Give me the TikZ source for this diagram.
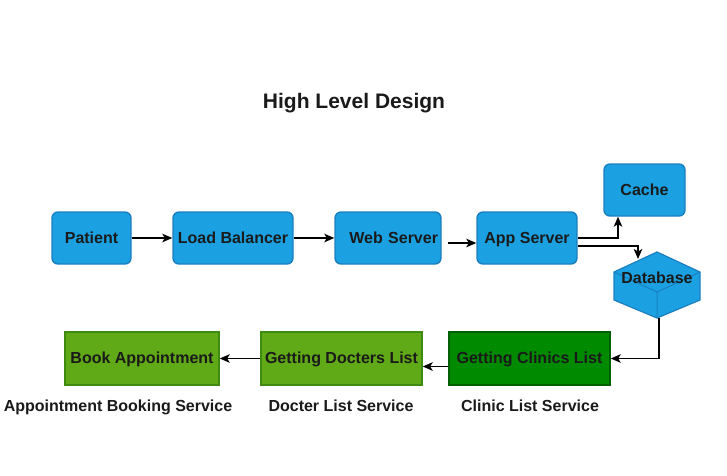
\documentclass[tikz,border=0pt]{standalone}
\usepackage{fontspec}
\setmainfont{Liberation Sans}
\usepackage{tikz}
\usetikzlibrary{arrows.meta,positioning,calc}
\definecolor{srvblue}{HTML}{1BA1E2}
\definecolor{srvedge}{HTML}{1A7FC0}
\definecolor{svcgreen}{HTML}{60A917}
\definecolor{svcedge}{HTML}{3F8A10}
\definecolor{clinicgreen}{HTML}{008A00}
\definecolor{clinicedge}{HTML}{005F00}
\definecolor{inktext}{HTML}{1A1A1A}

\begin{document}
\begin{tikzpicture}[
  x=1pt, y=-1pt,
  font=\fontsize{16}{19}\selectfont\bfseries,
  text=inktext,
  % server boxes
  server/.style={draw=srvedge, fill=srvblue, line width=1.4pt,
                 rounded corners=6pt, minimum height=52pt, inner sep=2pt,
                 text height=11.5pt, text depth=1.5pt},
  % service boxes
  service/.style={draw=svcedge, fill=svcgreen, line width=1.4pt,
                  minimum width=154pt, minimum height=53pt, inner sep=2pt,
                  text height=11.5pt, text depth=1.5pt},
  clinicbox/.style={service, draw=clinicedge, fill=clinicgreen},
  svclabel/.style={font=\fontsize{16}{19}\selectfont\bfseries,
                   text height=11.5pt, text depth=1.5pt},
  title/.style={font=\fontsize{21}{25}\selectfont\bfseries},
  arr/.style={-{Stealth[length=10pt,width=8.5pt,inset=2.5pt]}, line width=1.6pt, draw=black}
]
  \useasboundingbox (0,0) rectangle (727,475);

  % title
  \node[title] (title) at (354,103) {High Level Design};

  % =============================================================
  % request chain
  % =============================================================
  \node[server, minimum width=79pt] (patient) at (91.5,238) {Patient};
  \node[server, minimum width=120pt] (lb) at (233,238) {Load Balancer};
  \node[server, minimum width=106pt, text width=100pt, align=right] (web) at (388,238) {Web Server};
  \node[server, minimum width=100pt] (app) at (527,238) {App Server};
  \node[server, minimum width=81pt] (cache) at (644.5,190) {Cache};

  % database cube
  \node[minimum width=86pt, minimum height=66pt, inner sep=0pt] (db) at (657,285) {};
  \draw[srvedge, fill=srvblue, line width=1.2pt, line join=round]
        ([shift={(0,-33)}]db.center) -- ([shift={(43,-13)}]db.center)
        -- ([shift={(43,15)}]db.center) -- ([shift={(0,33)}]db.center)
        -- ([shift={(-43,15)}]db.center) -- ([shift={(-43,-13)}]db.center) -- cycle;
  \draw[srvedge, line width=1pt]
        ([shift={(-43,-13)}]db.center) -- ([shift={(0,7)}]db.center)
        -- ([shift={(43,-13)}]db.center)
        ([shift={(0,7)}]db.center) -- ([shift={(0,33)}]db.center);
  \node[text height=11.5pt, text depth=1.5pt] (dbtext) at ([shift={(0,-7)}]db.center) {Database};
  \coordinate (dbin) at ([shift={(-19,-26)}]db.center);
  \coordinate (dbout) at ([shift={(2,33)}]db.center);

  % =============================================================
  % service chain
  % =============================================================
  \node[clinicbox, minimum width=161pt] (clinics) at (529.5,358.5) {Getting Clinics List};
  \node[service, minimum width=161pt] (docters) at (341.5,358.5) {Getting Docters List};
  \node[service] (book) at (142,358.5) {Book Appointment};

  \node[svclabel] (bookname) at (118,406) {Appointment Booking Service};
  \node[svclabel] (doctername) at (341,406) {Docter List Service};
  \node[svclabel] (clinicname) at (530,406) {Clinic List Service};

  % connectors
  \draw[arr] (patient) -- (lb);
  \draw[arr] (lb) -- (web);
  \draw[arr] ([shift={(6,5)}]web.east) -- ([shift={(0,5)}]app.west);
  \draw[arr] (app.east) -| ([xshift=-26.5pt]cache.south);
  \draw[arr] ([shift={(0,8)}]app.east) -| (dbin);
  \draw[arr] (dbout) |- (clinics.east);
  \draw[arr] ([shift={(0,8)}]clinics.west) -- ([shift={(0,8)}]docters.east);
  \draw[arr] (docters) -- (book);
\end{tikzpicture}
\end{document}
